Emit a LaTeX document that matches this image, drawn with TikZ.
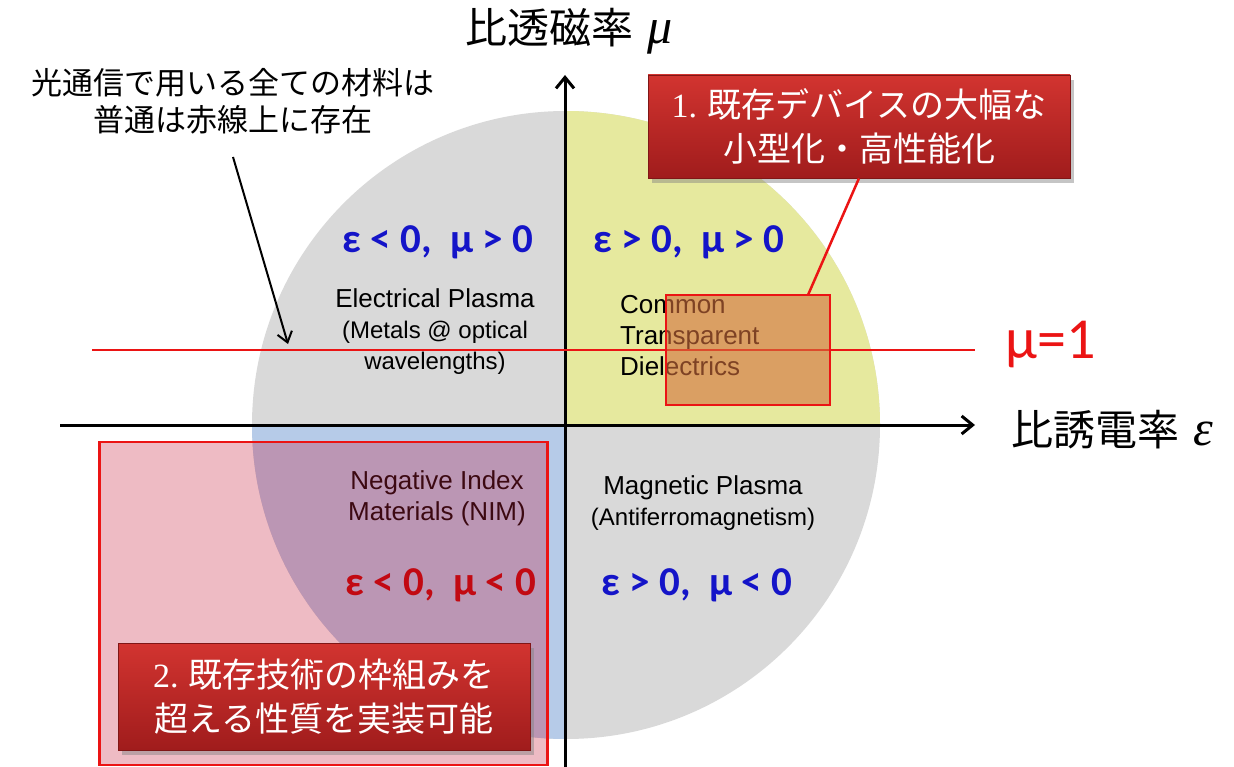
\documentclass[tikz,border=0pt]{standalone}
\usepackage{fontspec}
\setmainfont{Liberation Sans}
\newfontfamily\jpf{Noto Sans CJK JP}
\newfontfamily\calib{Carlito}
\newfontfamily\numf{Liberation Serif}
\usetikzlibrary{arrows.meta,shadows}
\definecolor{qgray}{RGB}{217,217,217}
\definecolor{qyellow}{RGB}{230,233,158}
\definecolor{qblue}{RGB}{182,203,232}
\definecolor{qlblue}{RGB}{20,20,200}
\definecolor{qdred}{RGB}{192,0,0}
\definecolor{qred}{RGB}{235,20,20}
\definecolor{pinkfill}{RGB}{200,30,60}
\definecolor{orfill}{RGB}{210,110,60}
\definecolor{boxtop}{RGB}{210,52,48}
\definecolor{boxbot}{RGB}{160,28,28}
\tikzset{
  axisline/.style={line width=3pt,-{Straight Barb[length=11pt,width=18pt,line width=3pt]}},
  redline/.style={draw=qred,line width=2.8pt},
  quadlabel/.style={font=\calib\bfseries\fontsize{41}{48}\selectfont,text=qlblue,inner sep=0pt},
  eng/.style={font=\fontsize{26}{31}\selectfont,align=center,inner sep=0pt},
  calloutbox/.style={top color=boxtop,bottom color=boxbot,draw=boxbot!80!black,line width=0.6pt,
     text=white,align=center,font=\jpf\fontsize{34}{44}\selectfont,
     drop shadow={opacity=0.45,shadow xshift=4pt,shadow yshift=-5pt}},
  axislabel/.style={font=\jpf\fontsize{42}{48}\selectfont,inner sep=0pt}
}
\begin{document}
\begin{tikzpicture}[x=1pt,y=-1pt]
\useasboundingbox (0,0) rectangle (1234,767);
\fill[white] (0,0) rectangle (1234,767);
% circle and quadrants
\fill[qgray] (566,425) circle[radius=314];
\begin{scope}
  \clip (566,425) rectangle (1234,0);
  \fill[qyellow] (566,425) circle[radius=314];
\end{scope}
\begin{scope}
  \clip (566,425) rectangle (0,767);
  \fill[qblue] (566,425) circle[radius=314];
\end{scope}
% quadrant labels
\node[quadlabel] (q2) at (438,242) {ε < 0,\ \ μ > 0};
\node[quadlabel] (q1) at (689,242) {ε > 0,\ \ μ > 0};
\node[quadlabel,text=qdred] (q3) at (441,585) {ε < 0,\ \ μ < 0};
\node[quadlabel] (q4) at (697,585) {ε > 0,\ \ μ < 0};
% english labels
\node[eng] (ep) at (435,332) {Electrical Plasma\\{\fontsize{24}{31}\selectfont(Metals @ optical}\\{\fontsize{24}{31}\selectfont wavelengths)}};
\node[eng,align=left,anchor=west] (ctd) at (620,336) {Common\\Transparent\\Dielectrics};
\node[eng] (nim) at (437,498) {Negative Index\\Materials (NIM)};
\node[eng] (mp) at (703,503) {Magnetic Plasma\\{\fontsize{24}{31}\selectfont(Antiferromagnetism)}};
% axes
\coordinate (xl) at (60,425);
\coordinate (xr) at (975,425);
\coordinate (yb) at (565,767);
\coordinate (yt) at (565,75);
\draw[axisline] (xl) -- (xr);
\draw[axisline] (yb) -- (yt);
\node[axislabel] (ylab) at (569,31) {比透磁率\hspace{14pt}{\numf\itshape\fontsize{50}{50}\selectfont μ}};
\node[axislabel] (xlab) at (1112,430) {比誘電率\hspace{14pt}{\numf\itshape\fontsize{50}{50}\selectfont ε}};
% mu = 1 line
\coordinate (ml) at (92,350);
\coordinate (mr) at (975,350);
\draw[redline] (ml) -- (mr);
\node[font=\calib\fontsize{58}{60}\selectfont,text=qred,inner sep=0pt] (mu1) at (1051,345) {μ=1};
% orange rectangle
\node[draw=qred,line width=2.5pt,fill=orfill,fill opacity=0.6,minimum width=164pt,minimum height=110pt,inner sep=0pt] (orect) at (748,350) {};
% big pink rectangle
\node[draw=qred,line width=2.5pt,fill=pinkfill,fill opacity=0.3,minimum width=448pt,minimum height=323pt,inner sep=0pt] (prect) at (323.5,603.5) {};
% annotation
\node[font=\jpf\fontsize{31}{37}\selectfont,align=center,inner sep=0pt] (note) at (233,101) {光通信で用いる全ての材料は\\普通は赤線上に存在};
\coordinate (notetip) at (288,344);
\coordinate (notestart) at (233,157);
\draw[line width=2pt,-{Straight Barb[length=10pt,width=15pt,line width=2pt]}] (notestart) -- (notetip);
% callouts
\coordinate (c1) at (808,295);
\node[calloutbox,minimum width=422pt,minimum height=103pt] (call1) at (859,126.5) {{\numf 1.} 既存デバイスの大幅な\\小型化・高性能化};
\draw[qred,line width=2.5pt] (c1) -- (call1.south);
\node[calloutbox,minimum width=412pt,minimum height=107pt] (call2) at (324,696.5) {{\numf 2.} 既存技術の枠組みを\\超える性質を実装可能};
\end{tikzpicture}
\end{document}
